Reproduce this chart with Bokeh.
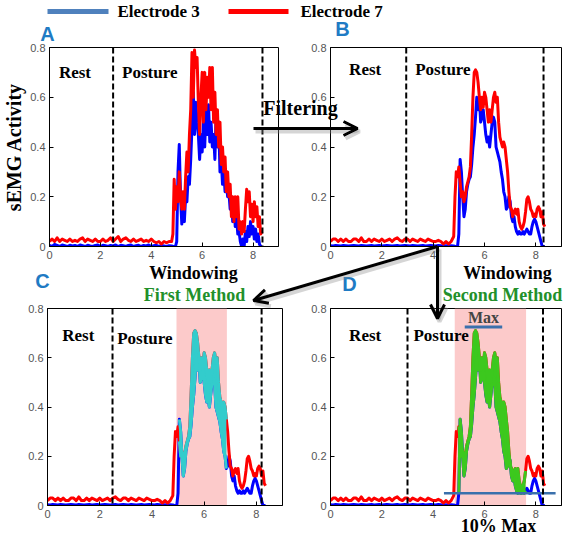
from bokeh.plotting import figure
from bokeh.layouts import column, row
from bokeh.models import (Range1d, FixedTicker, Label, Arrow, OpenHead,
                          BoxAnnotation, Span)
from bokeh.embed import file_html
from bokeh.resources import INLINE

# ---------------- data ----------------
T = [0.0, 0.1, 0.2, 0.3, 0.4, 0.5, 0.6, 0.7, 0.8, 0.9,
     1.0, 1.1, 1.2, 1.3, 1.4, 1.5, 1.6, 1.7, 1.8, 1.9,
     2.0, 2.1, 2.2, 2.3, 2.4, 2.5, 2.6, 2.7, 2.8, 2.9,
     3.0, 3.1, 3.2, 3.3, 3.4, 3.5, 3.6, 3.7, 3.8, 3.9,
     4.0, 4.1, 4.2, 4.3, 4.4, 4.5, 4.6, 4.7, 4.8,
     4.85, 4.9, 4.95, 5.0, 5.05, 5.1, 5.15, 5.2, 5.25, 5.3,
     5.35, 5.4, 5.45, 5.5, 5.55, 5.6, 5.65, 5.7, 5.75, 5.8,
     5.85, 5.9, 5.95, 6.0, 6.05, 6.1, 6.15, 6.2, 6.25, 6.3,
     6.35, 6.4, 6.45, 6.5, 6.55, 6.6, 6.65, 6.7, 6.75, 6.8,
     6.85, 6.9, 6.95, 7.0, 7.05, 7.1, 7.15, 7.2, 7.25, 7.3,
     7.35, 7.4, 7.45, 7.5, 7.55, 7.6, 7.65, 7.7, 7.75, 7.8,
     7.85, 7.9, 7.95, 8.0, 8.05, 8.1, 8.15, 8.2, 8.25, 8.3,
     8.35]

# Panel A: raw signals
A_RED = [0.02, 0.03, 0.02, 0.035, 0.02, 0.03, 0.025, 0.02, 0.03, 0.02,
         0.025, 0.02, 0.03, 0.035, 0.02, 0.03, 0.025, 0.02, 0.03, 0.02,
         0.02, 0.03, 0.02, 0.025, 0.035, 0.02, 0.03, 0.04, 0.02, 0.03,
         0.035, 0.025, 0.02, 0.03, 0.02, 0.025, 0.03, 0.02, 0.025, 0.02,
         0.03, 0.02, 0.015, 0.02, 0.01, 0.02, 0.015, 0.02, 0.02,
         0.05, 0.27, 0.15, 0.24, 0.18, 0.30, 0.20, 0.15, 0.22, 0.15,
         0.28, 0.38, 0.30, 0.45, 0.55, 0.78, 0.60, 0.79, 0.72, 0.76,
         0.58, 0.45, 0.60, 0.70, 0.50, 0.70, 0.55, 0.68, 0.60, 0.72,
         0.55, 0.72, 0.50, 0.62, 0.45, 0.55, 0.40, 0.50, 0.33, 0.40,
         0.30, 0.36, 0.22, 0.30, 0.20, 0.25, 0.12, 0.20, 0.10, 0.20,
         0.12, 0.20, 0.07, 0.10, 0.05, 0.10, 0.06, 0.15, 0.23, 0.18,
         0.22, 0.12, 0.17, 0.10, 0.18, 0.12, 0.16, 0.08, 0.12, 0.05,
         0.06]
A_BLUE = [0.005, 0.0, 0.008, 0.004, 0.0, 0.006, 0.003, 0.0, 0.005, 0.002,
          0.004, 0.0, 0.006, 0.003, 0.0, 0.005, 0.002, 0.0, 0.004, 0.006,
          0.0, 0.005, 0.003, 0.0, 0.004, 0.002, 0.006, 0.0, 0.005, 0.003,
          0.0, 0.004, 0.006, 0.0, 0.003, 0.005, 0.0, 0.004, 0.002, 0.006,
          0.0, 0.003, 0.005, 0.0, 0.004, 0.002, 0.0, 0.003, 0.002,
          0.0, 0.0, 0.0, 0.02, 0.30, 0.41, 0.20, 0.09, 0.15, 0.10,
          0.20, 0.18, 0.28, 0.25, 0.35, 0.48, 0.62, 0.45, 0.58, 0.50,
          0.45, 0.35, 0.45, 0.38, 0.50, 0.40, 0.55, 0.45, 0.57, 0.42,
          0.50, 0.40, 0.45, 0.35, 0.54, 0.40, 0.50, 0.30, 0.35, 0.25,
          0.30, 0.22, 0.28, 0.20, 0.22, 0.15, 0.20, 0.10, 0.18, 0.08,
          0.12, 0.05, 0.06, 0.02, 0.00, 0.03, 0.00, 0.06, 0.02, 0.08,
          0.04, 0.10, 0.05, 0.08, 0.03, 0.07, 0.02, 0.05, 0.01, 0.00,
          0.00]

# Panels B, C, D: filtered signals
B_RED = [0.02, 0.03, 0.03, 0.02, 0.03, 0.02, 0.03, 0.02, 0.02, 0.03,
         0.03, 0.02, 0.035, 0.02, 0.02, 0.03, 0.02, 0.03, 0.025, 0.02,
         0.03, 0.02, 0.025, 0.03, 0.02, 0.03, 0.035, 0.025, 0.02, 0.03,
         0.03, 0.02, 0.03, 0.025, 0.02, 0.03, 0.025, 0.02, 0.03, 0.025,
         0.02, 0.02, 0.025, 0.02, 0.01, 0.02, 0.01, 0.02, 0.04,
         0.20, 0.30, 0.28, 0.32, 0.26, 0.20, 0.22, 0.18, 0.20, 0.24,
         0.26, 0.28, 0.32, 0.45, 0.60, 0.70, 0.71, 0.70, 0.66, 0.60,
         0.55, 0.60, 0.56, 0.62, 0.60, 0.55, 0.50, 0.55, 0.50, 0.55,
         0.60, 0.62, 0.58, 0.60, 0.50, 0.44, 0.42, 0.40, 0.42, 0.40,
         0.35, 0.30, 0.22, 0.16, 0.15, 0.12, 0.14, 0.15, 0.13, 0.15,
         0.10, 0.08, 0.07, 0.08, 0.10, 0.14, 0.19, 0.20, 0.18, 0.15,
         0.14, 0.12, 0.13, 0.12, 0.15, 0.16, 0.15, 0.12, 0.14, 0.09,
         0.08]
B_BLUE = [0.003, 0.002, 0.004, 0.003, 0.002, 0.004, 0.003, 0.002, 0.003, 0.004,
          0.003, 0.002, 0.004, 0.003, 0.002, 0.003, 0.004, 0.002, 0.003, 0.004,
          0.002, 0.003, 0.004, 0.003, 0.002, 0.003, 0.004, 0.002, 0.003, 0.004,
          0.003, 0.002, 0.004, 0.003, 0.002, 0.003, 0.004, 0.002, 0.003, 0.004,
          0.003, 0.002, 0.004, 0.003, 0.002, 0.003, 0.002, 0.003, 0.002,
          0.0, 0.0, 0.0, 0.05, 0.35, 0.30, 0.20, 0.12, 0.15, 0.22,
          0.25, 0.27, 0.28, 0.33, 0.40, 0.45, 0.52, 0.60, 0.55, 0.60,
          0.50, 0.52, 0.55, 0.50, 0.45, 0.42, 0.44, 0.40, 0.45, 0.50,
          0.52, 0.50, 0.40, 0.38, 0.36, 0.34, 0.30, 0.27, 0.22, 0.20,
          0.15, 0.16, 0.20, 0.18, 0.12, 0.10, 0.12, 0.08, 0.06, 0.05,
          0.06, 0.05, 0.05, 0.06, 0.05, 0.06, 0.07, 0.06, 0.05, 0.05,
          0.08, 0.10, 0.11, 0.10, 0.08, 0.06, 0.04, 0.02, 0.00, 0.00,
          0.00]

SERIES_NAMES = ["Electrode 3", "Electrode 7"]
X_TICKS = [0, 2, 4, 6, 8]
X_TICK_LABELS = ["0", "2", "4", "6", "8"]
Y_TICKS = [0, 0.2, 0.4, 0.6, 0.8]
Y_TICK_LABELS = ["0", "0.2", "0.4", "0.6", "0.8"]

# phase boundaries (dashed lines) per panel
BOUNDS_A = [2.5, 8.37]
BOUNDS_B = [2.95, 8.3]
BOUNDS_C = [2.49, 8.2]
BOUNDS_D = [3.0, 8.28]
# analysis windows
WINDOW_C = [4.94, 6.87]
WINDOW_D = [4.84, 7.62]
HIGHLIGHT_C = [5.02, 6.85]
HIGHLIGHT_D = [5.0, 7.6]
MAX_LEVEL = 0.725
MAX_SPAN = [5.23, 6.69]
TEN_PCT_LEVEL = 0.05
TEN_PCT_SPAN = [4.42, 8.77]

# ---------------- styles ----------------
SERIF = "Liberation Serif"
SANS = "Liberation Sans"
RED = "#FF0000"
BLUE = "#0000FF"
PINK = "#FCCACA"
CYAN = "#33CCCC"
GREEN = "#3CC81E"
DARK_GREEN = "#22902A"
LETTER = "#1F7BC4"
LEGEND_BLUE = "#4F81BD"
REF_BLUE = "#3A70AC"
W, H = 563, 536


def style_axis(ax, ticks, labels):
    ax.ticker = FixedTicker(ticks=ticks)
    ax.major_label_overrides = dict(zip(ticks, labels))
    ax.axis_line_color = "black"
    ax.axis_line_width = 1
    ax.major_tick_in = 4
    ax.major_tick_out = 0
    ax.major_tick_line_color = "black"
    ax.minor_tick_line_color = None
    ax.major_label_text_font = SANS
    ax.major_label_text_font_size = "11px"
    ax.major_label_text_color = "#555555"
    ax.major_label_standoff = 4


def panel(width, height, left, right, top, bottom):
    p = figure(width=width, height=height, x_range=Range1d(0, 9), y_range=Range1d(0, 0.8),
               output_backend="svg", toolbar_location=None,
               min_border_left=left, min_border_right=right,
               min_border_top=top, min_border_bottom=bottom,
               background_fill_color="white", border_fill_color="white",
               outline_line_color="black", outline_line_width=1)
    p.grid.visible = False
    style_axis(p.xaxis[0], X_TICKS, X_TICK_LABELS)
    style_axis(p.yaxis[0], Y_TICKS, Y_TICK_LABELS)
    return p


def bounds(p, locs):
    for loc in locs:
        p.add_layout(Span(location=loc, dimension="height", line_color="black",
                          line_width=2, line_dash="6 3"))


def phase_labels(p, rest_xy, posture_xy):
    for txt, (x, y) in (("Rest", rest_xy), ("Posture", posture_xy)):
        p.add_layout(Label(x=x, y=y, text=txt, text_font=SERIF, text_font_style="bold",
                           text_font_size="17px", text_align="center", text_baseline="middle",
                           text_color="black"))


def window_box(p, win):
    p.add_layout(BoxAnnotation(left=win[0], right=win[1], fill_color=PINK, fill_alpha=1.0,
                               line_color=None, level="underlay"))


def signals(p, blue, red, width=3):
    p.line(T, blue, line_color=BLUE, line_width=width, line_join="round")
    p.line(T, red, line_color=RED, line_width=width, line_join="round")


def highlight(p, win, color):
    idx = [i for i, t in enumerate(T) if win[0] <= t <= win[1]]
    xs = [T[i] for i in idx]
    lo = [min(B_BLUE[i], B_RED[i]) for i in idx]
    hi = [max(B_BLUE[i], B_RED[i]) for i in idx]
    p.varea(x=xs, y1=lo, y2=hi, fill_color=color)
    p.line(xs, [B_BLUE[i] for i in idx], line_color=color, line_width=3, line_join="round")
    p.line(xs, [B_RED[i] for i in idx], line_color=color, line_width=3, line_join="round")


# ---------------- panels ----------------
pa = panel(292, 264, 45, 14, 44, 18)
pa.yaxis[0].axis_label = "sEMG Activity"
pa.yaxis[0].axis_label_text_font = SERIF
pa.yaxis[0].axis_label_text_font_style = "bold"
pa.yaxis[0].axis_label_text_font_size = "20px"
pa.yaxis[0].axis_label_text_color = "black"
pa.yaxis[0].axis_label_standoff = 2
signals(pa, A_BLUE, A_RED, 3)
bounds(pa, BOUNDS_A)
phase_labels(pa, (1.0, 0.70), (3.94, 0.70))

pb = panel(271, 264, 38, 2, 47, 17)
signals(pb, B_BLUE, B_RED, 3)
bounds(pb, BOUNDS_B)
phase_labels(pb, (1.35, 0.71), (4.38, 0.71))

pc = panel(292, 272, 47, 10, 40, 31)
window_box(pc, WINDOW_C)
signals(pc, B_BLUE, B_RED, 3)
highlight(pc, HIGHLIGHT_C, CYAN)
bounds(pc, BOUNDS_C)
phase_labels(pc, (1.18, 0.69), (3.73, 0.68))

pd = panel(271, 272, 38, 2, 44, 31)
window_box(pd, WINDOW_D)
signals(pd, B_BLUE, B_RED, 3)
highlight(pd, HIGHLIGHT_D, GREEN)
bounds(pd, BOUNDS_D)
phase_labels(pd, (1.35, 0.69), (4.31, 0.69))
pd.line(MAX_SPAN, [MAX_LEVEL, MAX_LEVEL], line_color=REF_BLUE, line_width=3)
pd.line(TEN_PCT_SPAN, [TEN_PCT_LEVEL, TEN_PCT_LEVEL], line_color=REF_BLUE, line_width=2.5)
pd.add_layout(Label(x=5.96, y=0.765, text="Max", text_font=SERIF, text_font_style="bold",
                    text_font_size="16px", text_align="center", text_baseline="middle"))

# ---------------- overlay for annotations spanning panels (page pixel coordinates) ----------------
ov = figure(width=W, height=H, x_range=Range1d(0, W), y_range=Range1d(H, 0),
            output_backend="svg", toolbar_location=None,
            min_border=0, min_border_left=0, min_border_right=0,
            min_border_top=0, min_border_bottom=0,
            x_axis_type=None, y_axis_type=None,
            background_fill_color=None, border_fill_color=None, outline_line_color=None)
ov.styles = {"position": "absolute", "left": "0px", "top": "0px"}

# legend: swatches + names
LEGEND_SWATCH_X0 = [47, 228]
LEGEND_SWATCH_X1 = [108, 288]
LEGEND_TEXT_X = [117, 300]
LEGEND_Y = 11
ov.segment(x0=LEGEND_SWATCH_X0, y0=[LEGEND_Y] * 2, x1=LEGEND_SWATCH_X1, y1=[LEGEND_Y] * 2,
           line_color=[LEGEND_BLUE, RED], line_width=5)
for name, tx in zip(SERIES_NAMES, LEGEND_TEXT_X):
    ov.add_layout(Label(x=tx, y=LEGEND_Y, text=name, text_font=SERIF, text_font_style="bold",
                        text_font_size="17px", text_color="black", text_align="left",
                        text_baseline="middle"))


def otext(x, y, text, size, color="black", font=SERIF):
    ov.add_layout(Label(x=x, y=y, text=text, text_font=font, text_font_style="bold",
                        text_font_size=size, text_color=color, text_align="center",
                        text_baseline="middle"))


for letter, (lx, ly) in (("A", (47, 33)), ("B", (342, 28)), ("C", (42, 280)), ("D", (349, 283))):
    otext(lx, ly, letter, "20px", LETTER, SANS)

otext(300, 107.5, "Filtering", "20px")
otext(193, 272.5, "Windowing", "18px")
otext(194, 294, "First Method", "18px", DARK_GREEN)
otext(507, 272.5, "Windowing", "18px")
otext(502, 294, "Second Method", "18px", DARK_GREEN)
otext(498, 525, "10% Max", "18px")

ARROWS = [((253, 128), (357, 128)), ((437, 246), (253, 300)), ((437, 246), (437, 318))]
for (x0, y0), (x1, y1) in ARROWS:
    ov.add_layout(Arrow(x_start=x0 + 2, y_start=y0 + 3, x_end=x1 + 2, y_end=y1 + 3,
                        line_color="#888888", line_alpha=0.35, line_width=4,
                        end=OpenHead(size=14, line_width=4, line_color="#888888", line_alpha=0.35)))
    ov.add_layout(Arrow(x_start=x0, y_start=y0, x_end=x1, y_end=y1,
                        line_color="black", line_width=3,
                        end=OpenHead(size=14, line_width=3, line_color="black")))

layout = column(row(pa, pb), row(pc, pd), ov)
layout.styles = {"position": "relative"}

open("out.html", "w").write(file_html(layout, INLINE))
